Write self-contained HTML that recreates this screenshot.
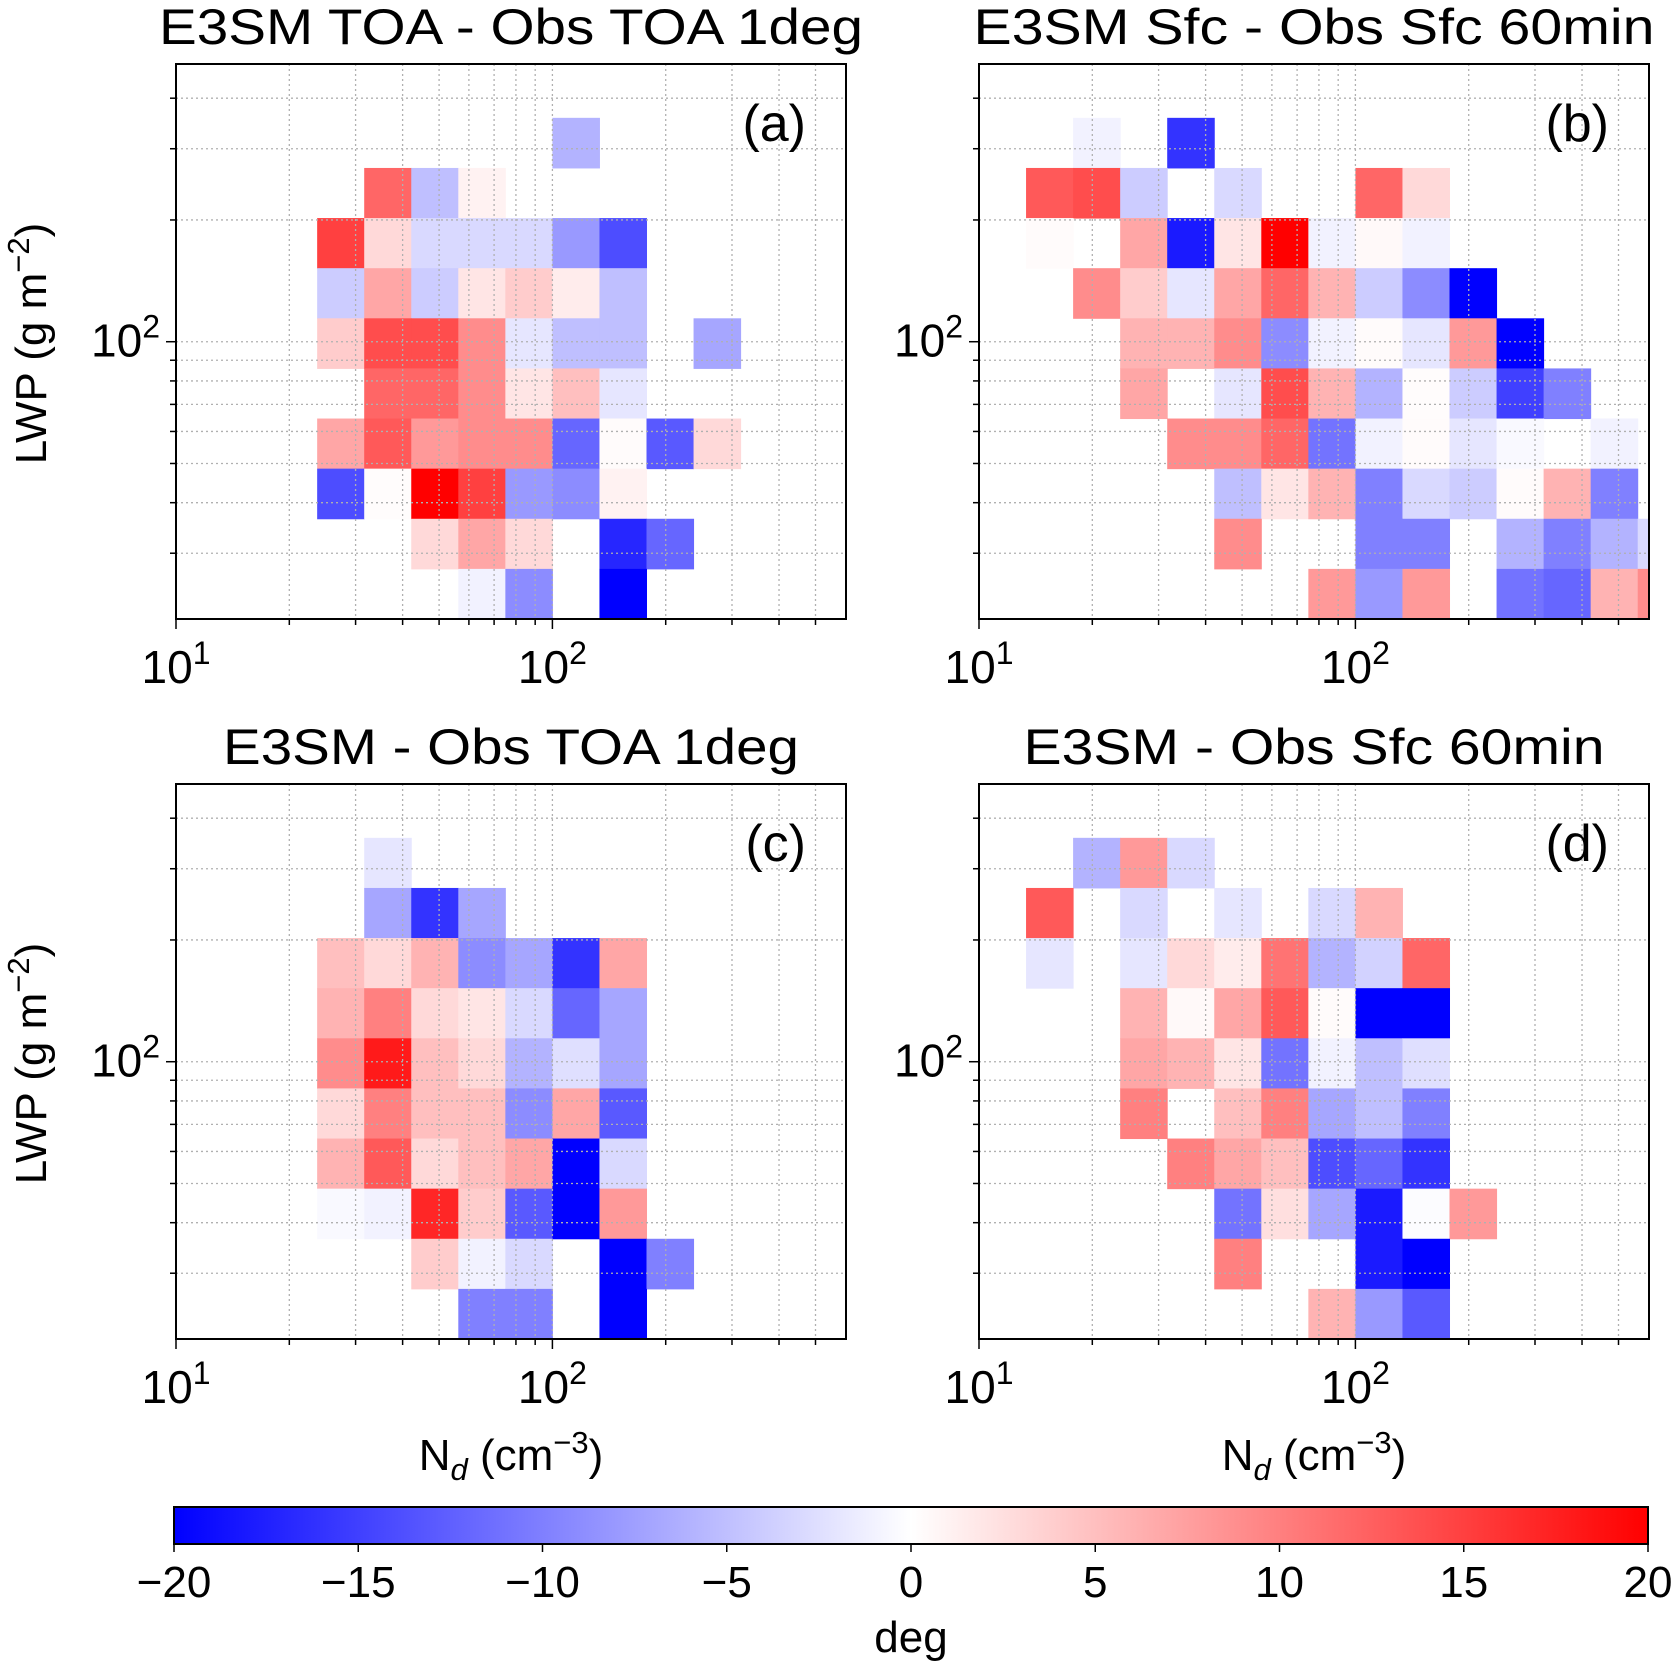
<!DOCTYPE html>
<html><head><meta charset="utf-8"><style>
html,body{margin:0;padding:0;background:#fff}
svg{display:block;font-family:"Liberation Sans","DejaVu Sans",sans-serif}
</style></head><body>
<svg id="fig" width="1673" height="1666" viewBox="0 0 1673 1666" xmlns="http://www.w3.org/2000/svg"></svg>
<script>
// ---- data: each cell = [column bin index, row bin index, value (deg)] ----
const panelATitle = "E3SM TOA - Obs TOA 1deg";
const panelACells = [
 [8,9,-6],
 [4,8,12],[5,8,-5],[6,8,1],
 [3,7,15],[4,7,3],[5,7,-3],[6,7,-3],[7,7,-3],[8,7,-8],[9,7,-14],
 [3,6,-4],[4,6,7],[5,6,-4],[6,6,2],[7,6,4],[8,6,1.5],[9,6,-5],
 [3,5,4],[4,5,14],[5,5,14],[6,5,9],[7,5,-2],[8,5,-5],[9,5,-5],[11,5,-7],
 [4,4,12],[5,4,12],[6,4,9],[7,4,2],[8,4,5],[9,4,-2],
 [3,3,7],[4,3,13],[5,3,8],[6,3,9],[7,3,9],[8,3,-12],[9,3,0.3],[10,3,-13],[11,3,3],
 [3,2,-14],[4,2,0.2],[5,2,20],[6,2,15],[7,2,-8],[8,2,-9],[9,2,1],
 [5,1,3],[6,1,7],[7,1,3],[9,1,-17],[10,1,-12],
 [6,0,-1],[7,0,-9],[9,0,-20]
];
const panelBTitle = "E3SM Sfc - Obs Sfc 60min";
const panelBCells = [
 [2,9,-1],[4,9,-16],
 [1,8,13],[2,8,14],[3,8,-4],[5,8,-3],[8,8,12],[9,8,3],
 [1,7,0.3],[3,7,7],[4,7,-18],[5,7,2],[6,7,20],[7,7,-1],[8,7,0.5],[9,7,-1],
 [2,6,9],[3,6,4],[4,6,-2],[5,6,7],[6,6,12],[7,6,6],[8,6,-4],[9,6,-9],[10,6,-20],
 [3,5,6],[4,5,6],[5,5,9],[6,5,-9],[7,5,-1],[8,5,0.3],[9,5,-2],[10,5,8],[11,5,-20],
 [3,4,7],[5,4,-2],[6,4,14],[7,4,6],[8,4,-6],[9,4,0.2],[10,4,-4],[11,4,-15],[12,4,-10],
 [4,3,9],[5,3,9],[6,3,12],[7,3,-11],[8,3,-1],[9,3,0.3],[10,3,-2],[11,3,-0.5],[13,3,-1],
 [5,2,-5],[6,2,2],[7,2,6],[8,2,-10],[9,2,-3],[10,2,-4],[11,2,0.3],[12,2,6],[13,2,-10],
 [5,1,9],[8,1,-10],[9,1,-10],[11,1,-6],[12,1,-10],[13,1,-6],[14,1,-3],
 [7,0,8],[8,0,-8],[9,0,8],[11,0,-11],[12,0,-12],[13,0,6],[14,0,9]
];
const panelCTitle = "E3SM - Obs TOA 1deg";
const panelCCells = [
 [4,9,-2],
 [4,8,-7],[5,8,-16],[6,8,-7],
 [3,7,5],[4,7,3],[5,7,6],[6,7,-9],[7,7,-7],[8,7,-16],[9,7,7],
 [3,6,6],[4,6,10],[5,6,3],[6,6,2],[7,6,-3],[8,6,-12],[9,6,-7],
 [3,5,9],[4,5,18],[5,5,5],[6,5,3],[7,5,-6],[8,5,-2.5],[9,5,-7],
 [3,4,3],[4,4,10],[5,4,5],[6,4,5],[7,4,-9],[8,4,7],[9,4,-13],
 [3,3,6],[4,3,13],[5,3,3],[6,3,5],[7,3,7],[8,3,-20],[9,3,-3],
 [3,2,-0.5],[4,2,-1],[5,2,17],[6,2,4],[7,2,-13],[8,2,-20],[9,2,8],
 [5,1,4],[6,1,-1],[7,1,-3],[9,1,-20],[10,1,-10],
 [6,0,-10],[7,0,-10],[9,0,-20]
];
const panelDTitle = "E3SM - Obs Sfc 60min";
const panelDCells = [
 [2,9,-6],[3,9,8],[4,9,-3],
 [1,8,13],[3,8,-3],[5,8,-2],[7,8,-3],[8,8,6],
 [1,7,-2],[3,7,-2],[4,7,3],[5,7,1.5],[6,7,11],[7,7,-6],[8,7,-3.5],[9,7,12],
 [3,6,6],[4,6,0.5],[5,6,7],[6,6,13],[7,6,0.3],[8,6,-20],[9,6,-20],
 [3,5,7],[4,5,6],[5,5,2],[6,5,-11],[7,5,-1],[8,5,-5],[9,5,-2.5],
 [3,4,10],[5,4,5],[6,4,10],[7,4,-7],[8,4,-5],[9,4,-10],
 [4,3,10],[5,3,7],[6,3,5],[7,3,-14],[8,3,-12],[9,3,-16],
 [5,2,-11],[6,2,2.5],[7,2,-7],[8,2,-18],[9,2,-0.2],[10,2,8],
 [5,1,10],[8,1,-18],[9,1,-20],
 [7,0,6],[8,0,-8],[9,0,-13]
];
const panelLetters = ["(a)","(b)","(c)","(d)"];
const cbarTicks = [-20,-15,-10,-5,0,5,10,15,20];

// ---- layout ----
const NS="http://www.w3.org/2000/svg";
const svg=document.getElementById('fig');
const PW=670, PH=555;
const panels=[
 {x:176,y:64,title:panelATitle,tw:704,cells:panelACells,letter:panelLetters[0],ylab:true,xlab:false,name:'panel-a'},
 {x:979,y:64,title:panelBTitle,tw:681,cells:panelBCells,letter:panelLetters[1],ylab:false,xlab:false,name:'panel-b'},
 {x:176,y:784,title:panelCTitle,tw:576,cells:panelCCells,letter:panelLetters[2],ylab:true,xlab:true,name:'panel-c'},
 {x:979,y:784,title:panelDTitle,tw:581,cells:panelDCells,letter:panelLetters[3],ylab:false,xlab:true,name:'panel-d'}
];
const XMIN=1, XMAX=2.78, YMIN=1.3145, YMAX=2.6866, XBIN=0.125, YBIN=0.1239;
function el(tag,attrs,parent){const e=document.createElementNS(NS,tag);for(const k in attrs)e.setAttribute(k,attrs[k]);(parent||svg).appendChild(e);return e;}
function cmap(v){let t=(Math.max(-20,Math.min(20,v))+20)/40;let r,g,b;
 if(t<0.5){r=g=2*t;b=1;}else{r=1;g=b=2*(1-t);}
 return `rgb(${Math.round(r*255)},${Math.round(g*255)},${Math.round(b*255)})`;}

panels.forEach(p=>{
 const sx=lg=>p.x+(lg-XMIN)/(XMAX-XMIN)*PW;
 const sy=lg=>p.y+PH-(lg-YMIN)/(YMAX-YMIN)*PH;
 const g=el('g',{});
 
 
 const clip=el('clipPath',{id:'clip-'+p.name},g);
 el('rect',{x:p.x,y:p.y,width:PW,height:PH},clip);
 const cg=el('g',{'clip-path':`url(#clip-${p.name})`},g);
 p.cells.forEach(c=>{
  const x0=sx(1+c[0]*XBIN), x1=sx(1+(c[0]+1)*XBIN);
  const y0=sy(YMIN+(c[1]+1)*YBIN), y1=sy(YMIN+c[1]*YBIN);
  const r=el('rect',{x:x0,y:y0,width:x1-x0+0.5,height:y1-y0+0.5,fill:cmap(c[2])},cg);
  
  
 });
 const xt=[20,30,40,50,60,70,80,90,100,200,300,400,500];
 const yt=[30,40,50,60,70,80,90,100,200,300,400];
 xt.forEach(v=>{const X=sx(Math.log10(v));
  el('line',{x1:X,x2:X,y1:p.y,y2:p.y+PH,stroke:'#b0b0b0','stroke-width':1.3,'stroke-dasharray':'2 3'},g);
  el('line',{x1:X,x2:X,y1:p.y+PH,y2:p.y+PH+(v===100?10:6),stroke:'#000','stroke-width':1.5},g);});
 el('line',{x1:p.x,x2:p.x,y1:p.y+PH,y2:p.y+PH+10,stroke:'#000','stroke-width':1.5},g);
 yt.forEach(v=>{const Y=sy(Math.log10(v));
  el('line',{x1:p.x,x2:p.x+PW,y1:Y,y2:Y,stroke:'#b0b0b0','stroke-width':1.3,'stroke-dasharray':'2 3'},g);
  el('line',{x1:p.x-(v===100?10:6),x2:p.x,y1:Y,y2:Y,stroke:'#000','stroke-width':1.5},g);});
 const fr=el('rect',{x:p.x,y:p.y,width:PW,height:PH,fill:'none',stroke:'#000','stroke-width':2},g);
 
 
 [[1,'1'],[2,'2']].forEach(([lg,e])=>{
  const t=el('text',{x:sx(lg),y:p.y+PH+64,'font-size':46,'text-anchor':'middle'},g);
  
  
  t.innerHTML=`10<tspan dy="-19" font-size="32">${e}</tspan>`;
 });
 const yl=el('text',{x:p.x-16,y:sy(2)+15,'font-size':46,'text-anchor':'end'},g);
 
 
 yl.innerHTML=`10<tspan dy="-19" font-size="32">2</tspan>`;
 const tt=el('text',{x:p.x+PW/2,y:p.y-20,'font-size':50,'text-anchor':'middle',textLength:p.tw,lengthAdjust:'spacingAndGlyphs'},g);
 
 
 tt.textContent=p.title;
 const lt=el('text',{x:p.x+PW-40,y:p.y+77,'font-size':52,'text-anchor':'end'},g);
 
 
 lt.textContent=p.letter;
 if(p.ylab){
  const cy=p.y+PH/2+2;
  const t=el('text',{x:0,y:0,'font-size':44,'text-anchor':'middle',transform:`translate(46,${cy}) rotate(-90)`},g);
  
  
  t.innerHTML=`LWP (g m<tspan dy="-17" font-size="31">−2</tspan><tspan dy="17">)</tspan>`;
 }
 if(p.xlab){
  const t=el('text',{x:p.x+PW/2,y:p.y+PH+131,'font-size':44,'text-anchor':'middle'},g);
  
  
  t.innerHTML=`N<tspan dy="10" font-size="31" font-style="italic">d</tspan><tspan dy="-10"> (cm</tspan><tspan dy="-17" font-size="31">−3</tspan><tspan dy="17">)</tspan>`;
 }
});

const CX=174, CW=1474, CY=1507, CH=37;
const cbg=el('g',{});


const defs=el('defs',{},cbg);
const lgd=el('linearGradient',{id:'bwr',x1:0,x2:1,y1:0,y2:0},defs);
el('stop',{offset:0,'stop-color':'rgb(0,0,255)'},lgd);
el('stop',{offset:0.5,'stop-color':'rgb(255,255,255)'},lgd);
el('stop',{offset:1,'stop-color':'rgb(255,0,0)'},lgd);
el('rect',{x:CX,y:CY,width:CW,height:CH,fill:'url(#bwr)',stroke:'#000','stroke-width':2},cbg);
const cx=v=>CX+(v+20)/40*CW;
cbarTicks.forEach(v=>{
 const X=cx(v);
 el('line',{x1:X,x2:X,y1:CY+CH,y2:CY+CH+8,stroke:'#000','stroke-width':1.5},cbg);
 const t=el('text',{x:X,y:1597,'font-size':44,'text-anchor':'middle'},cbg);
 
 
 t.textContent=(v<0?'−':'')+Math.abs(v);
});
const dl=el('text',{x:CX+CW/2,y:1652,'font-size':44,'text-anchor':'middle'},cbg);


dl.textContent='deg';
</script>
</body></html>
